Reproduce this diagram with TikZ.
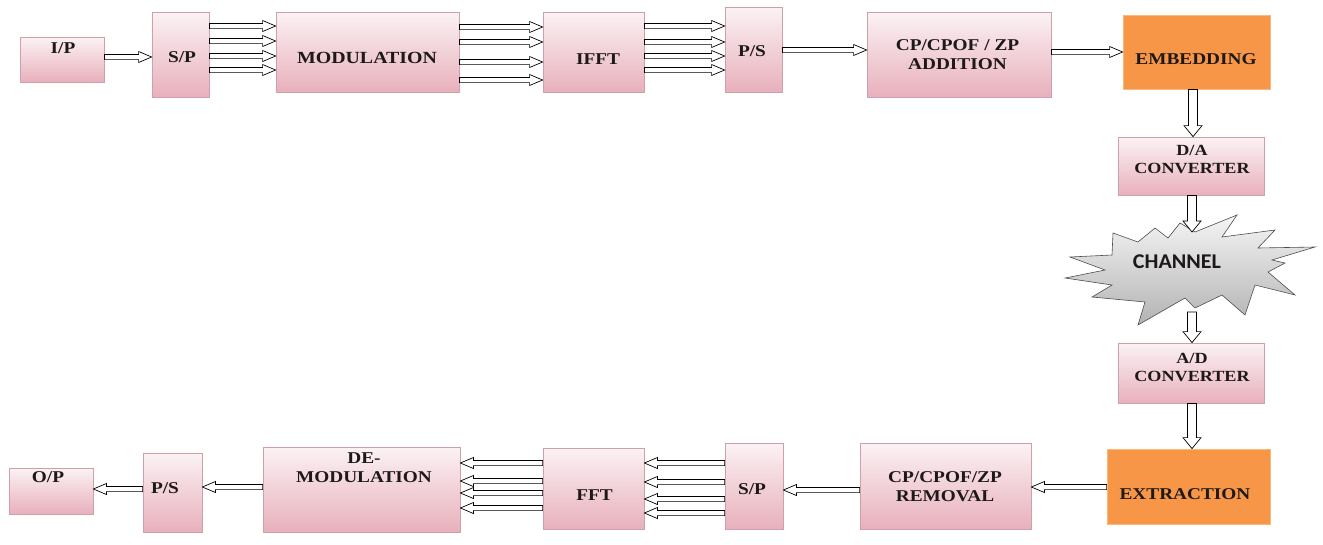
\documentclass[tikz,border=0pt]{standalone}
\usepackage{fontspec}
\setmainfont{Liberation Serif}[FakeStretch=1.17]
\newfontfamily\chanfont{Carlito}[FakeStretch=1.05]
\usetikzlibrary{calc}
\definecolor{pinktop}{RGB}{251,242,244}
\definecolor{pinkbot}{RGB}{232,176,188}
\definecolor{pinkline}{RGB}{205,160,170}
\definecolor{orfill}{RGB}{247,150,70}
\definecolor{orline}{RGB}{250,185,120}
\definecolor{txt}{RGB}{30,25,25}
\newcommand\blockarrow[3]{let \p1=(\tikztostart), \p2=(\tikztotarget),
  \n1={atan2(\y2-\y1,\x2-\x1)}, \n2={veclen(\x2-\x1,\y2-\y1)} in
  {[shift={(\p1)}, rotate=\n1]
   (0pt,-#1) -- (\n2*1pt-#3,-#1) -- (\n2*1pt-#3,-#2) -- (\n2*1pt,0pt) --
   (\n2*1pt-#3,#2) -- (\n2*1pt-#3,#1) -- (0pt,#1) -- cycle}}
\tikzset{
  box/.style={draw=pinkline, line width=0.8pt, top color=pinktop, bottom color=pinkbot, inner sep=0pt},
  obox/.style={draw=orline, line width=0.8pt, fill=orfill, inner sep=0pt},
  lbl/.style={font=\fontsize{16.5}{19}\selectfont\bfseries, align=center, inner sep=0pt, text=txt},
  clbl/.style={font=\fontsize{15.5}{18}\selectfont\bfseries, align=center, inner sep=0pt, text=txt},
  hah/.style={draw=black, fill=white, line width=0.7pt, to path={\blockarrow{2.6pt}{5.5pt}{13pt}}},
  hav/.style={draw=black, fill=white, line width=0.7pt, to path={\blockarrow{4.5pt}{9pt}{11pt}}},
}
\begin{document}
\begin{tikzpicture}[x=1pt,y=-1pt]
\useasboundingbox (0,0) rectangle (1323,544);
% ---------- top row boxes
\node[box, minimum width=84pt, minimum height=45pt] (ip) at (62,59.5) {};
\node[box, minimum width=57pt, minimum height=85pt] (sp1) at (180.5,54.5) {};
\node[box, minimum width=183pt, minimum height=80pt] (mod) at (367.5,52) {};
\node[box, minimum width=101pt, minimum height=80pt] (ifft) at (593.5,52) {};
\node[box, minimum width=57pt, minimum height=85pt] (ps1) at (753.5,49.5) {};
\node[box, minimum width=184pt, minimum height=85pt] (add) at (959,54.5) {};
\node[obox, minimum width=147pt, minimum height=74pt] (emb) at (1196.5,52) {};
% ---------- right column
\node[box, minimum width=146pt, minimum height=58pt] (da) at (1191,166) {};
\draw[draw=gray!60!black, line width=0.6pt, top color=gray!8, bottom color=gray!60]
  (1070,257) -- (1112,255) -- (1113,233) -- (1138,242) -- (1155,228) -- (1168,238)
  -- (1180,223) -- (1195,232) -- (1237,215) -- (1222,237) -- (1275,230) -- (1258,248)
  -- (1315,247) -- (1272,260) -- (1285,263) -- (1268,272) -- (1295,295) -- (1255,285)
  -- (1245,315) -- (1222,295) -- (1195,308) -- (1185,298) -- (1138,325) -- (1145,302)
  -- (1092,297) -- (1112,285) -- (1065,278) -- (1105,270) -- cycle;
\node[font=\chanfont\fontsize{21}{24}\selectfont\bfseries, text=txt, inner sep=0pt] (chan) at (1177,261.5) {CHANNEL};
\coordinate (chtop) at (1192,232);
\coordinate (chbot) at (1192,312);
\node[box, minimum width=146pt, minimum height=60pt] (ad) at (1191,373) {};
% ---------- bottom row boxes
\node[obox, minimum width=163pt, minimum height=75pt] (ext) at (1188.5,486.5) {};
\node[box, minimum width=171pt, minimum height=86pt] (rem) at (945.5,486) {};
\node[box, minimum width=58pt, minimum height=86pt] (sp2) at (754,486) {};
\node[box, minimum width=101pt, minimum height=81pt] (fft) at (593.5,488.5) {};
\node[box, minimum width=197pt, minimum height=85pt] (demod) at (361.5,489.5) {};
\node[box, minimum width=59pt, minimum height=79pt] (ps2) at (172.5,492.5) {};
\node[box, minimum width=84pt, minimum height=46pt] (op) at (51,491) {};
% ---------- labels
\node[lbl] (ipt) at (63,48) {I/P};
\node[lbl] (sp1t) at (182,57) {S/P};
\node[lbl, font=\fontsize{17}{19}\selectfont\bfseries] (modt) at (367,58) {MODULATION};
\node[lbl] (iffft) at (598,59) {IFFT};
\node[lbl] (ps1t) at (752,51) {P/S};
\node[lbl] (addt) at (957.5,54.5) {CP/CPOF / ZP\\ADDITION};
\node[lbl] (embt) at (1196,59) {EMBEDDING};
\node[clbl] (dat) at (1192,159) {D/A\\CONVERTER};
\node[clbl] (adt) at (1192,367.5) {A/D\\CONVERTER};
\node[lbl] (extt) at (1185,494) {EXTRACTION};
\node[lbl] (remt) at (945,487) {CP/CPOF/ZP\\REMOVAL};
\node[lbl] (sp2t) at (752,489) {S/P};
\node[lbl] (fftt) at (594.5,495) {FFT};
\node[lbl] (demodt) at (364,468) {DE-\\MODULATION};
\node[lbl] (ps2t) at (165,488) {P/S};
\node[lbl] (opt) at (48,477.5) {O/P};
% ---------- top row arrows
\draw[hah] (ip.east |- 0,57) to (sp1.west |- 0,57);
\foreach \yy in {26,41,56,70} \draw[hah] (sp1.east |- 0,\yy) to (mod.west |- 0,\yy);
\foreach \yy in {27,42,62,80} \draw[hah] (mod.east |- 0,\yy) to (ifft.west |- 0,\yy);
\foreach \yy in {26,42,56,70} \draw[hah] (ifft.east |- 0,\yy) to (ps1.west |- 0,\yy);
\draw[hah] (ps1.east |- 0,50) to (add.west |- 0,50);
\draw[hah] (add.east |- 0,52) to (emb.west |- 0,52);
% ---------- right column arrows
\draw[hav] (emb.south -| 1193,0) to (da.north -| 1193,0);
\draw[hav] (da.south -| 1192,0) to (chtop);
\draw[hav] (chbot) to (ad.north -| 1192,0);
\draw[hav] (ad.south -| 1192,0) to (ext.north -| 1192,0);
% ---------- bottom row arrows
\draw[hah] (ext.west |- 0,487) to (rem.east |- 0,487);
\draw[hah] (rem.west |- 0,490) to (sp2.east |- 0,490);
\foreach \yy in {463,482,499,513} \draw[hah] (sp2.west |- 0,\yy) to (fft.east |- 0,\yy);
\foreach \yy in {463,481,493,508} \draw[hah] (fft.west |- 0,\yy) to (demod.east |- 0,\yy);
\draw[hah] (demod.west |- 0,487) to (ps2.east |- 0,487);
\draw[hah] (ps2.west |- 0,489) to (op.east |- 0,489);
\end{tikzpicture}
\end{document}
